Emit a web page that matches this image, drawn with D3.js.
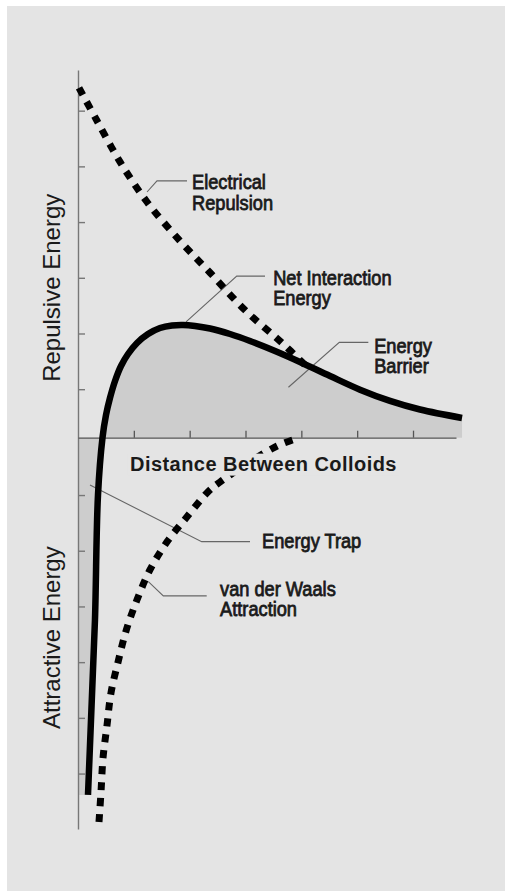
<!DOCTYPE html>
<html>
<head>
<meta charset="utf-8">
<script src="https://cdn.jsdelivr.net/npm/d3@7"></script>
<style>
    body { margin: 0; background: #fff; }
    svg { display: block; }
</style>
</head>
<body>
<div id="chart"></div>
<script>
// Curves (x: distance, y: energy, in tick units).
const netCurve = [
    [0.179, -6.414], [0.233, -5.067], [0.304, -3.272], [0.358, -1.029], [0.439, 0],
    [0.502, 0.407], [0.573, 0.713], [0.663, 1.018], [0.770, 1.287], [0.896, 1.502],
    [1.057, 1.700], [1.254, 1.861], [1.469, 1.969], [1.684, 2.014], [1.881, 2.023],
    [2.096, 2.005], [2.365, 1.960], [2.723, 1.861], [3.081, 1.736], [3.529, 1.556],
    [3.976, 1.359], [4.514, 1.107], [5.051, 0.862], [5.588, 0.660], [6.126, 0.505], [6.878, 0.354]
];
const repulsionCurve = [
    [0.018, 6.28], [0.323, 5.72], [0.753, 4.95], [1.237, 4.23], [1.81, 3.55],
    [2.366, 2.96], [2.99, 2.29], [3.656, 1.70], [4.07, 1.30]
];
const attractionCurve = [
    [0.376, -6.90], [0.412, -6.36], [0.448, -5.75], [0.520, -5.16], [0.591, -4.58],
    [0.717, -4.03], [0.860, -3.47], [1.057, -2.91], [1.290, -2.37], [1.595, -1.87],
    [1.953, -1.42], [2.330, -0.97], [2.545, -0.795], [3.047, -0.456], [3.566, -0.15], [3.925, -0.014]
];

const xTicks = [1, 2, 3, 4, 5, 6];
const yTicksRepulsive = [0.87, 1.87, 2.87, 3.87, 4.87, 5.87];
const yTicksAttractive = [-1.03, -2.03, -3.03, -4.03, -5.03, -6.03];

const xTitle = 'Distance Between Colloids';
const yTitles = ['Repulsive Energy', 'Attractive Energy'];
const calloutTexts = [
    ['Electrical', 'Repulsion'],
    ['Net Interaction', 'Energy'],
    ['Energy', 'Barrier'],
    ['Energy Trap'],
    ['van der Waals', 'Attraction']
];

document.addEventListener('DOMContentLoaded', () => {
    let width = 506, height = 892;

    let svg = d3.select('#chart').append('svg')
        .attr('width', width)
        .attr('height', height);

    svg.append('rect')
        .attr('x', 7)
        .attr('y', 6)
        .attr('width', 498)
        .attr('height', 885)
        .attr('fill', '#e4e4e4');

    let x = d3.scaleLinear().domain([0, 6.77]).range([78, 456]);
    let y = d3.scaleLinear().domain([-7.025, 6.6]).range([829, 70]);

    let curve = d3.curveCatmullRom.alpha(0.5);

    // Shaded areas: barrier above the axis, trap below it.
    let above = netCurve.filter(d => d[1] >= 0);
    let below = netCurve.filter(d => d[1] <= 0);

    svg.append('path')
        .datum(above)
        .attr('fill', '#cdcdcd')
        .attr('d', d3.area()
            .curve(curve)
            .x(d => x(d[0]))
            .y0(y(0))
            .y1(d => y(d[1])));

    svg.append('path')
        .datum(below)
        .attr('fill', '#cdcdcd')
        .attr('d', d3.area()
            .curve(curve)
            .y(d => y(d[1]))
            .x0(x(0))
            .x1(d => x(d[0])));

    // Axes.
    let yAxis = svg.append('g')
        .attr('transform', 'translate(' + x(0) + ',0)')
        .call(d3.axisRight(y)
            .tickValues(yTicksRepulsive.concat(yTicksAttractive))
            .tickSize(7)
            .tickSizeOuter(0)
            .tickFormat(''));

    let xAxis = svg.append('g')
        .attr('transform', 'translate(0,' + y(0) + ')')
        .call(d3.axisTop(x)
            .tickValues(xTicks)
            .tickSize(7)
            .tickSizeOuter(0)
            .tickFormat(''));

    yAxis.selectAll('path, line').attr('stroke', '#777').attr('stroke-width', 1.4);
    xAxis.selectAll('path, line').attr('stroke', '#555').attr('stroke-width', 1.3);

    // Callout leader lines: anchor, elbow, end (data units) and text start.
    let callouts = [
        {pts: [[1.236, 4.41], [1.415, 4.61], [1.953, 4.61]], text: [2.043, 4.461]},
        {pts: [[1.935, 2.08], [2.843, 2.90], [3.35, 2.90]], text: [3.495, 2.741]},
        {pts: [[3.769, 0.905], [4.68, 1.71], [5.20, 1.71]], text: [5.305, 1.521]},
        {pts: [[0.215, -0.85], [2.215, -1.867], [3.08, -1.867]], text: [3.297, -1.98]},
        {pts: [[1.26, -2.585], [1.528, -2.84], [2.305, -2.84]], text: [2.545, -2.84]}
    ];

    let line = d3.line().x(d => x(d[0])).y(d => y(d[1]));

    svg.selectAll('.leader')
        .data(callouts)
      .enter().append('path')
        .attr('class', 'leader')
        .attr('fill', 'none')
        .attr('stroke', '#666')
        .attr('stroke-width', 1.1)
        .attr('d', d => line(d.pts));

    // Dotted component curves.
    [repulsionCurve, attractionCurve].forEach(data => {
        svg.append('path')
            .datum(data)
            .attr('fill', 'none')
            .attr('stroke', '#000')
            .attr('stroke-width', 7)
            .attr('stroke-dasharray', '8,8')
            .attr('d', d3.line().curve(curve).x(d => x(d[0])).y(d => y(d[1])));
    });

    // Net interaction energy.
    svg.append('path')
        .datum(netCurve)
        .attr('fill', 'none')
        .attr('stroke', '#000')
        .attr('stroke-width', 6.5)
        .attr('d', d3.line().curve(curve).x(d => x(d[0])).y(d => y(d[1])));

    // Callout texts, slightly condensed.
    callouts.forEach((c, i) => {
        calloutTexts[i].forEach((t, j) => {
            let el = svg.append('text')
                .attr('x', x(c.text[0]))
                .attr('y', y(c.text[1]) + j * 20.5)
                .attr('font-family', '"Liberation Sans", Arial, sans-serif')
                .attr('font-size', 20)
                .attr('fill', '#1a1a1a')
                .attr('stroke', '#1a1a1a')
                .attr('stroke-width', 0.8)
                .text(t);
            let len = el.node().getComputedTextLength();
            el.attr('textLength', len * 0.91).attr('lengthAdjust', 'spacingAndGlyphs');
        });
    });

    // X title sits on a patch of background that interrupts the dotted curve.
    let xTitleEl = svg.append('text')
        .attr('x', x(0.932))
        .attr('y', y(-0.592))
        .attr('font-family', '"Liberation Sans", Arial, sans-serif')
        .attr('font-size', 20)
        .attr('font-weight', 'bold')
        .attr('letter-spacing', 0.45)
        .attr('fill', '#1a1a1a')
        .text(xTitle);
    let bb = xTitleEl.node().getBBox();
    svg.insert('rect', () => xTitleEl.node())
        .attr('x', bb.x - 3)
        .attr('y', bb.y + 1)
        .attr('width', bb.width + 6)
        .attr('height', bb.height)
        .attr('fill', '#e4e4e4');

    let yTitlePos = [2.69, -3.59];
    yTitles.forEach((t, i) => {
        svg.append('text')
            .attr('transform', 'translate(60,' + y(yTitlePos[i]) + ') rotate(-90)')
            .attr('text-anchor', 'middle')
            .attr('font-family', '"Liberation Sans", Arial, sans-serif')
            .attr('font-size', 24)
            .attr('fill', '#1a1a1a')
            .text(t);
    });
});
</script>
</body>
</html>
